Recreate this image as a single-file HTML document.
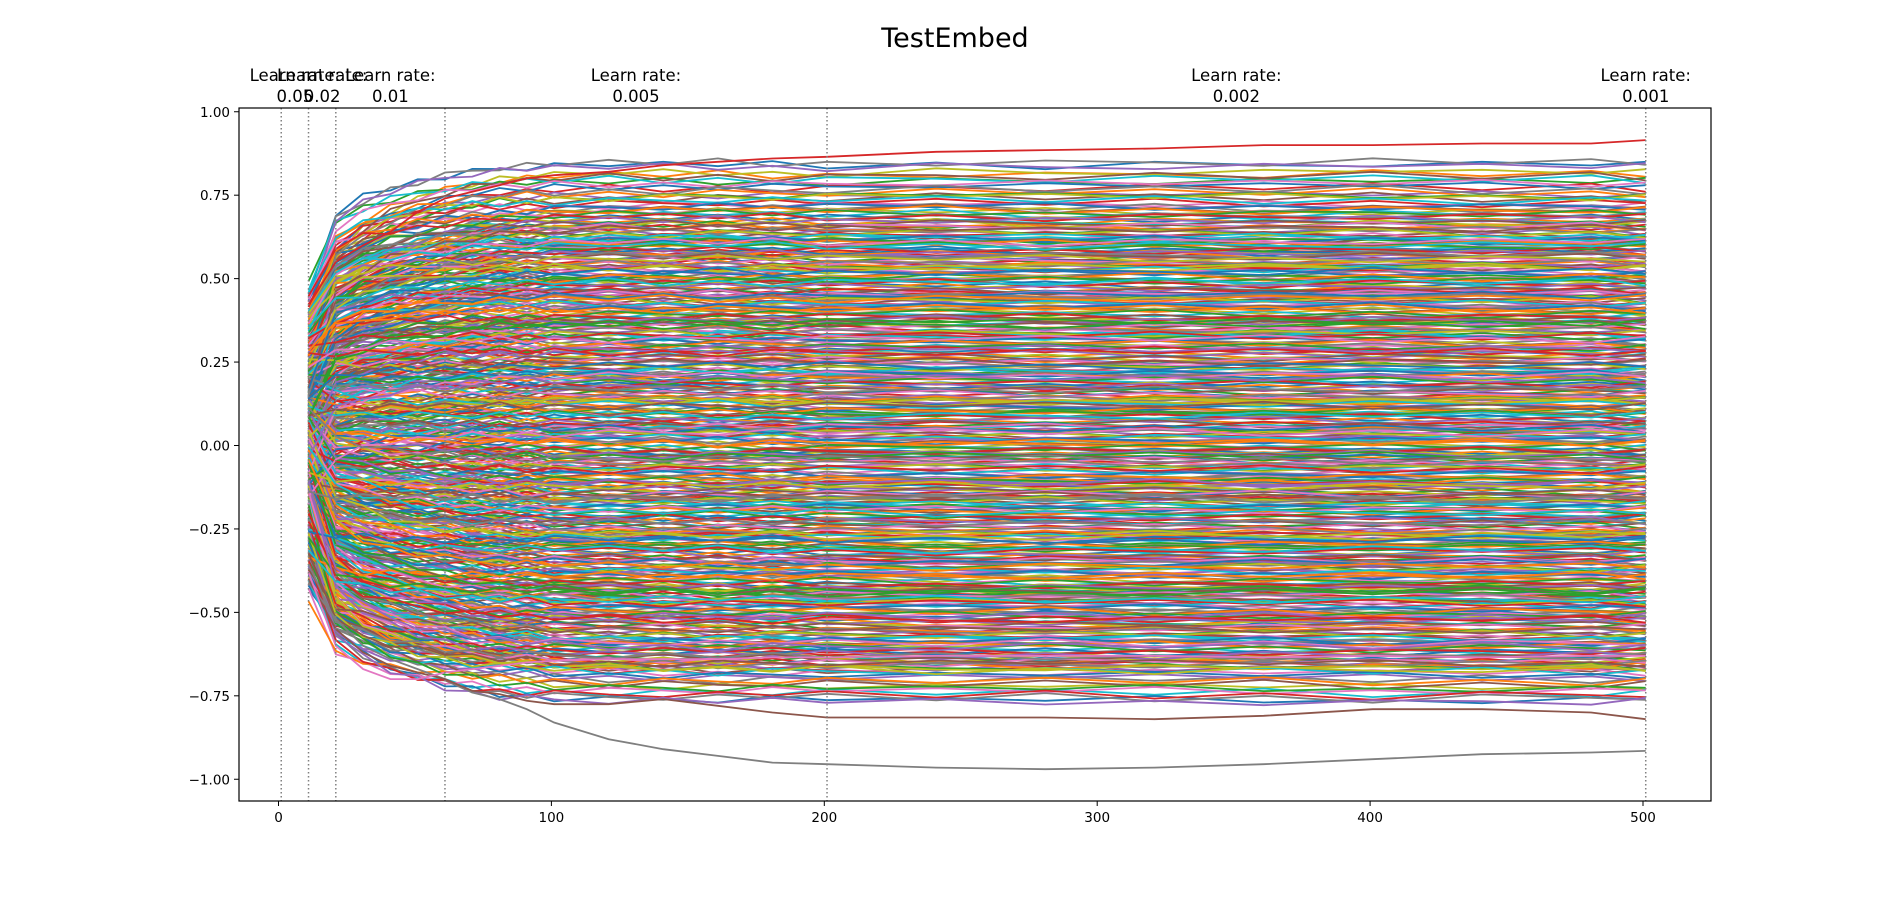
<!DOCTYPE html>
<html><head><meta charset="utf-8"><style>
body{margin:0;background:#fff}
svg{display:block;font-family:"DejaVu Sans","Liberation Sans",sans-serif}
</style></head><body>
<svg id="chart" width="1900" height="900" xmlns="http://www.w3.org/2000/svg">
<rect width="1900" height="900" fill="#fff"/>
<text x="955" y="47" text-anchor="middle" font-size="27">TestEmbed</text>
<g id="lines"></g>
<g id="vlines"></g>
<rect x="239" y="108" width="1472" height="693" fill="none" stroke="#000" stroke-width="1.2"/>
<g id="ticks"></g>
</svg>
<script>
const steps=[11,21,31,41,51,61,71,81,91,101,121,141,161,181,201,241,281,321,361,401,441,481,501];
const profile=[0,0.62,0.75,0.83,0.88,0.92,0.95,0.97,0.98,0.99,1,1,1.005,1,1,1.01,1,1.005,1,1.01,1,1.005,1];
const finals=[0.84,0.81,0.79,0.77,0.75,0.74,0.72,0.71,0.7,0.69,0.68,0.67,0.66,0.65,0.64,0.63,0.62,0.61,0.6,0.59,0.58,0.57,0.56,0.55,0.54,0.53,0.52,0.51,0.5,0.49,0.48,0.47,0.46,0.45,0.44,0.43,0.42,0.41,0.4,0.39,0.38,0.37,0.36,0.35,0.34,0.33,0.32,0.31,0.3,0.29,0.28,0.27,0.26,0.25,0.24,0.23,0.22,0.21,0.2,0.19,0.18,0.17,0.16,0.15,0.14,0.13,0.12,0.11,0.1,0.09,0.08,0.07,0.06,0.05,0.04,0.03,0.02,0.01,0,-0.01,-0.02,-0.03,-0.04,-0.05,-0.06,-0.07,-0.08,-0.09,-0.1,-0.11,-0.12,-0.13,-0.14,-0.15,-0.16,-0.17,-0.18,-0.19,-0.2,-0.21,-0.22,-0.23,-0.24,-0.25,-0.26,-0.27,-0.28,-0.29,-0.3,-0.31,-0.32,-0.33,-0.34,-0.35,-0.36,-0.37,-0.38,-0.39,-0.4,-0.41,-0.42,-0.43,-0.44,-0.45,-0.46,-0.47,-0.48,-0.49,-0.5,-0.51,-0.52,-0.53,-0.54,-0.55,-0.56,-0.57,-0.58,-0.59,-0.6,-0.61,-0.62,-0.63,-0.64,-0.65,-0.66,-0.67,-0.68,-0.7,-0.72,-0.74,-0.76,0.655,0.615,0.575,0.535,0.495,0.455,0.415,0.375,0.335,0.295,0.255,0.215,0.175,0.135,0.095,0.055,0.015,-0.025,-0.065,-0.105,-0.145,-0.185,-0.225,-0.265,-0.305,-0.345,-0.385,-0.425,-0.465,-0.505,-0.545,-0.585,-0.625,-0.665,0.605,0.525,0.445,0.365,0.285,0.205,0.125,0.045,-0.035,-0.115,-0.195,-0.275,-0.355,-0.435,-0.515,-0.595,-0.645,0.325,-0.155,0.565,-0.455,0.245];
const startJitter=[0.1,-0.07,0.16,-0.12,0.04,-0.17,0.13,-0.03,0.08,-0.14,0.11,-0.09,0.02,0.15,-0.05];
const wiggle=[0.01,-0.005,0.012,-0.01,0.004,-0.012,0.008,0,-0.008,0.01,-0.003];
const copyOffsets=[0,0.006,-0.006];
const outlierSteps=[11,21,31,41,51,61,71,81,91,101,121,141,161,181,201,241,281,321,361,401,441,481,501];
const outlierGray=[-0.41,-0.52,-0.6,-0.64,-0.67,-0.7,-0.74,-0.76,-0.79,-0.83,-0.88,-0.91,-0.93,-0.95,-0.955,-0.965,-0.97,-0.965,-0.955,-0.94,-0.925,-0.92,-0.915];
const outlierBrown=[-0.4,-0.55,-0.62,-0.66,-0.68,-0.7,-0.735,-0.745,-0.765,-0.775,-0.775,-0.76,-0.78,-0.8,-0.815,-0.815,-0.815,-0.82,-0.81,-0.79,-0.79,-0.8,-0.82];
const outlierPink=[-0.38,-0.6,-0.67,-0.7,-0.7,-0.68,-0.67,-0.66,-0.65,-0.645,-0.64,-0.64,-0.64,-0.635,-0.635,-0.63,-0.63,-0.63,-0.635,-0.63,-0.635,-0.63,-0.63];
const outlierRed=[0.42,0.55,0.6,0.64,0.7,0.74,0.76,0.78,0.8,0.81,0.82,0.84,0.85,0.86,0.865,0.88,0.885,0.89,0.9,0.9,0.905,0.905,0.915];
const vlineSteps=[1,11,21,61,201,501];
const rateLabels=["0.05","0.02","0.01","0.005","0.002","0.001"];
const rateLabelPos=[6,16,41,131,351,501];
const xTicks=[0,100,200,300,400,500];
const yTicks=[1,0.75,0.5,0.25,0,-0.25,-0.5,-0.75,-1];

const colors=["#1f77b4","#ff7f0e","#2ca02c","#d62728","#9467bd","#8c564b","#e377c2","#7f7f7f","#bcbd22","#17becf"];
const X=v=>278.5+v*2.729;
const Y=v=>445.5-v*333.75;
const NS="http://www.w3.org/2000/svg";
const gl=document.getElementById('lines');
function addLine(xs,ys,c,name){
  const p=document.createElementNS(NS,'polyline');
  p.setAttribute('points',xs.map((x,k)=>X(x).toFixed(1)+','+Y(ys[k]).toFixed(1)).join(' '));
  p.setAttribute('fill','none');p.setAttribute('stroke',c);p.setAttribute('stroke-width','1.8');
  
  
  gl.appendChild(p);
}
let n=0;
copyOffsets.forEach((off,ci)=>{
  finals.forEach((f0,i)=>{
    const f=f0+off;
    const s=f*0.42+startJitter[(i+ci*4)%startJitter.length];
    const ys=profile.map((p,k)=>s+(f-s)*p+(k>0?wiggle[(i+k+ci)%wiggle.length]:0));
    addLine(steps,ys,colors[(n++)%10],'series-line');
  });
});
addLine(outlierSteps,outlierGray,colors[7],'outlier-gray-line');
addLine(outlierSteps,outlierBrown,colors[5],'outlier-brown-line');
addLine(outlierSteps,outlierPink,colors[6],'outlier-pink-line');
addLine(outlierSteps,outlierRed,colors[3],'outlier-red-line');

const gv=document.getElementById('vlines');
vlineSteps.forEach((v,i)=>{
  const l=document.createElementNS(NS,'line');
  l.setAttribute('x1',X(v));l.setAttribute('x2',X(v));l.setAttribute('y1',108);l.setAttribute('y2',801);
  l.setAttribute('stroke','#808080');l.setAttribute('stroke-width','1.5');l.setAttribute('stroke-dasharray','1.5,2.5');
  
  
  gv.appendChild(l);
  const t=document.createElementNS(NS,'text');
  t.setAttribute('x',X(rateLabelPos[i]));t.setAttribute('text-anchor','middle');t.setAttribute('font-size','16.5');
  t.innerHTML='<tspan x="'+X(rateLabelPos[i])+'" y="81">Learn rate:</tspan><tspan x="'+X(rateLabelPos[i])+'" y="102">'+rateLabels[i]+'</tspan>';
  
  
  gv.appendChild(t);
});
const gt=document.getElementById('ticks');
xTicks.forEach(v=>{
  const l=document.createElementNS(NS,'line');
  l.setAttribute('x1',X(v));l.setAttribute('x2',X(v));l.setAttribute('y1',801);l.setAttribute('y2',806);l.setAttribute('stroke','#000');
  
  
  gt.appendChild(l);
  const t=document.createElementNS(NS,'text');
  t.setAttribute('x',X(v));t.setAttribute('y',822);t.setAttribute('text-anchor','middle');t.setAttribute('font-size','13.5');
  t.textContent=v;
  
  
  gt.appendChild(t);
});
yTicks.forEach(v=>{
  const l=document.createElementNS(NS,'line');
  l.setAttribute('x1',234);l.setAttribute('x2',239);l.setAttribute('y1',Y(v));l.setAttribute('y2',Y(v));l.setAttribute('stroke','#000');
  
  
  gt.appendChild(l);
  const t=document.createElementNS(NS,'text');
  t.setAttribute('x',230);t.setAttribute('y',Y(v)+5);t.setAttribute('text-anchor','end');t.setAttribute('font-size','13.5');
  t.textContent=(v<0?'\u2212':'')+Math.abs(v).toFixed(2);
  
  
  gt.appendChild(t);
});
</script>
</body></html>
